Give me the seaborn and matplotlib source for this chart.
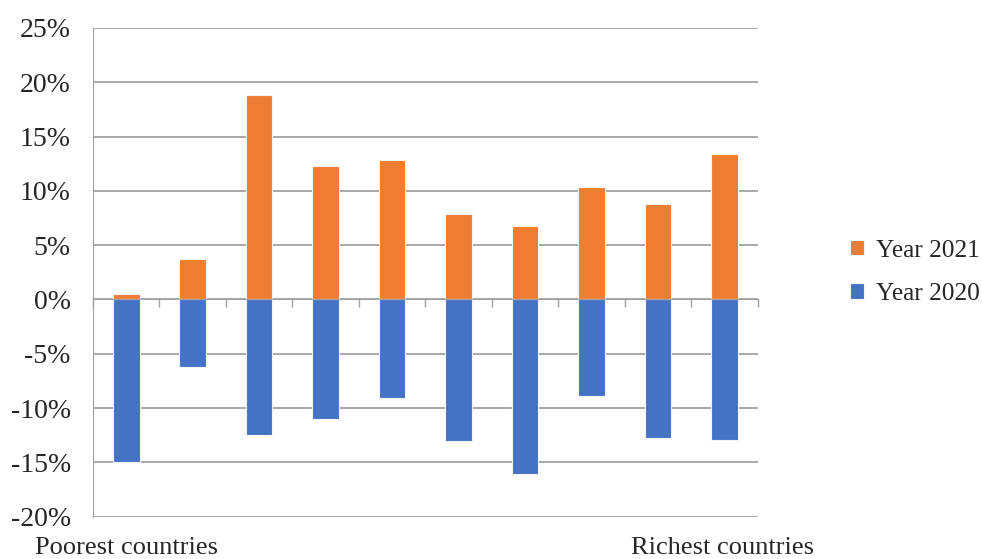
import pandas as pd
import matplotlib.pyplot as plt
import seaborn as sns
import numpy as np

# Values (percent)
groups = [str(i) for i in range(1, 11)]
year_2021 = [0.5, 3.7, 18.8, 12.3, 12.8, 7.9, 6.8, 10.4, 8.8, 13.4]
year_2020 = [-15.0, -6.2, -12.5, -11.0, -9.1, -13.0, -16.1, -8.9, -12.8, -12.9]
y_ticks = [-20, -15, -10, -5, 0, 5, 10, 15, 20, 25]

df = pd.DataFrame({
    'group': groups * 2,
    'value': year_2021 + year_2020,
    'series': ['Year 2021'] * len(groups) + ['Year 2020'] * len(groups),
})

sns.set_style('white')
plt.rcParams['font.family'] = ['Liberation Serif', 'DejaVu Serif']

fig = plt.figure(figsize=(9.82, 5.59), dpi=100)
ax = fig.add_axes([0.0947, 0.0757, 0.677, 0.8743])

sns.barplot(data=df, x='group', y='value', hue='series',
            hue_order=['Year 2021', 'Year 2020'],
            palette={'Year 2021': '#ED7D31', 'Year 2020': '#4472C4'},
            saturation=1, dodge=False, width=0.4,
            edgecolor='#f4f4f4', linewidth=0.8, ax=ax, zorder=3)

ax.set_xlim(-0.5, len(groups) - 0.5)
ax.set_ylim(-20, 25)
ax.set_yticks(y_ticks)
ax.set_yticklabels([f'{t}%' for t in y_ticks], fontsize=20)
ax.yaxis.grid(True, color='#a8a8a8', linewidth=1.4, zorder=0)
ax.tick_params(axis='y', left=False, length=0, pad=16)

# x axis sits on zero, ticks at category boundaries
ax.set_xticks(np.arange(-0.5, len(groups), 1.0))
ax.set_xticklabels([])
ax.tick_params(axis='x', bottom=True, direction='out', length=6, width=1, color='#a0a0a0')
ax.spines['bottom'].set_position(('data', 0))
ax.spines['bottom'].set_color('#a0a0a0')
ax.spines['bottom'].set_zorder(4)
ax.spines['left'].set_color('#a0a0a0')
ax.spines['top'].set_visible(False)
ax.spines['right'].set_visible(False)
ax.set_xlabel('')
ax.set_ylabel('')

leg = ax.legend(loc='center left', bbox_to_anchor=(1.105, 0.5), frameon=False,
                fontsize=18.3, handlelength=0.55, handleheight=0.55,
                handletextpad=0.45, labelspacing=0.85)

fig.text(35 / 982, 1 - 548 / 559, 'Poorest countries', fontsize=19, va='center', ha='left')
fig.text(631 / 982, 1 - 548 / 559, 'Richest countries', fontsize=19, va='center', ha='left')

plt.savefig('out.png', dpi=100)
